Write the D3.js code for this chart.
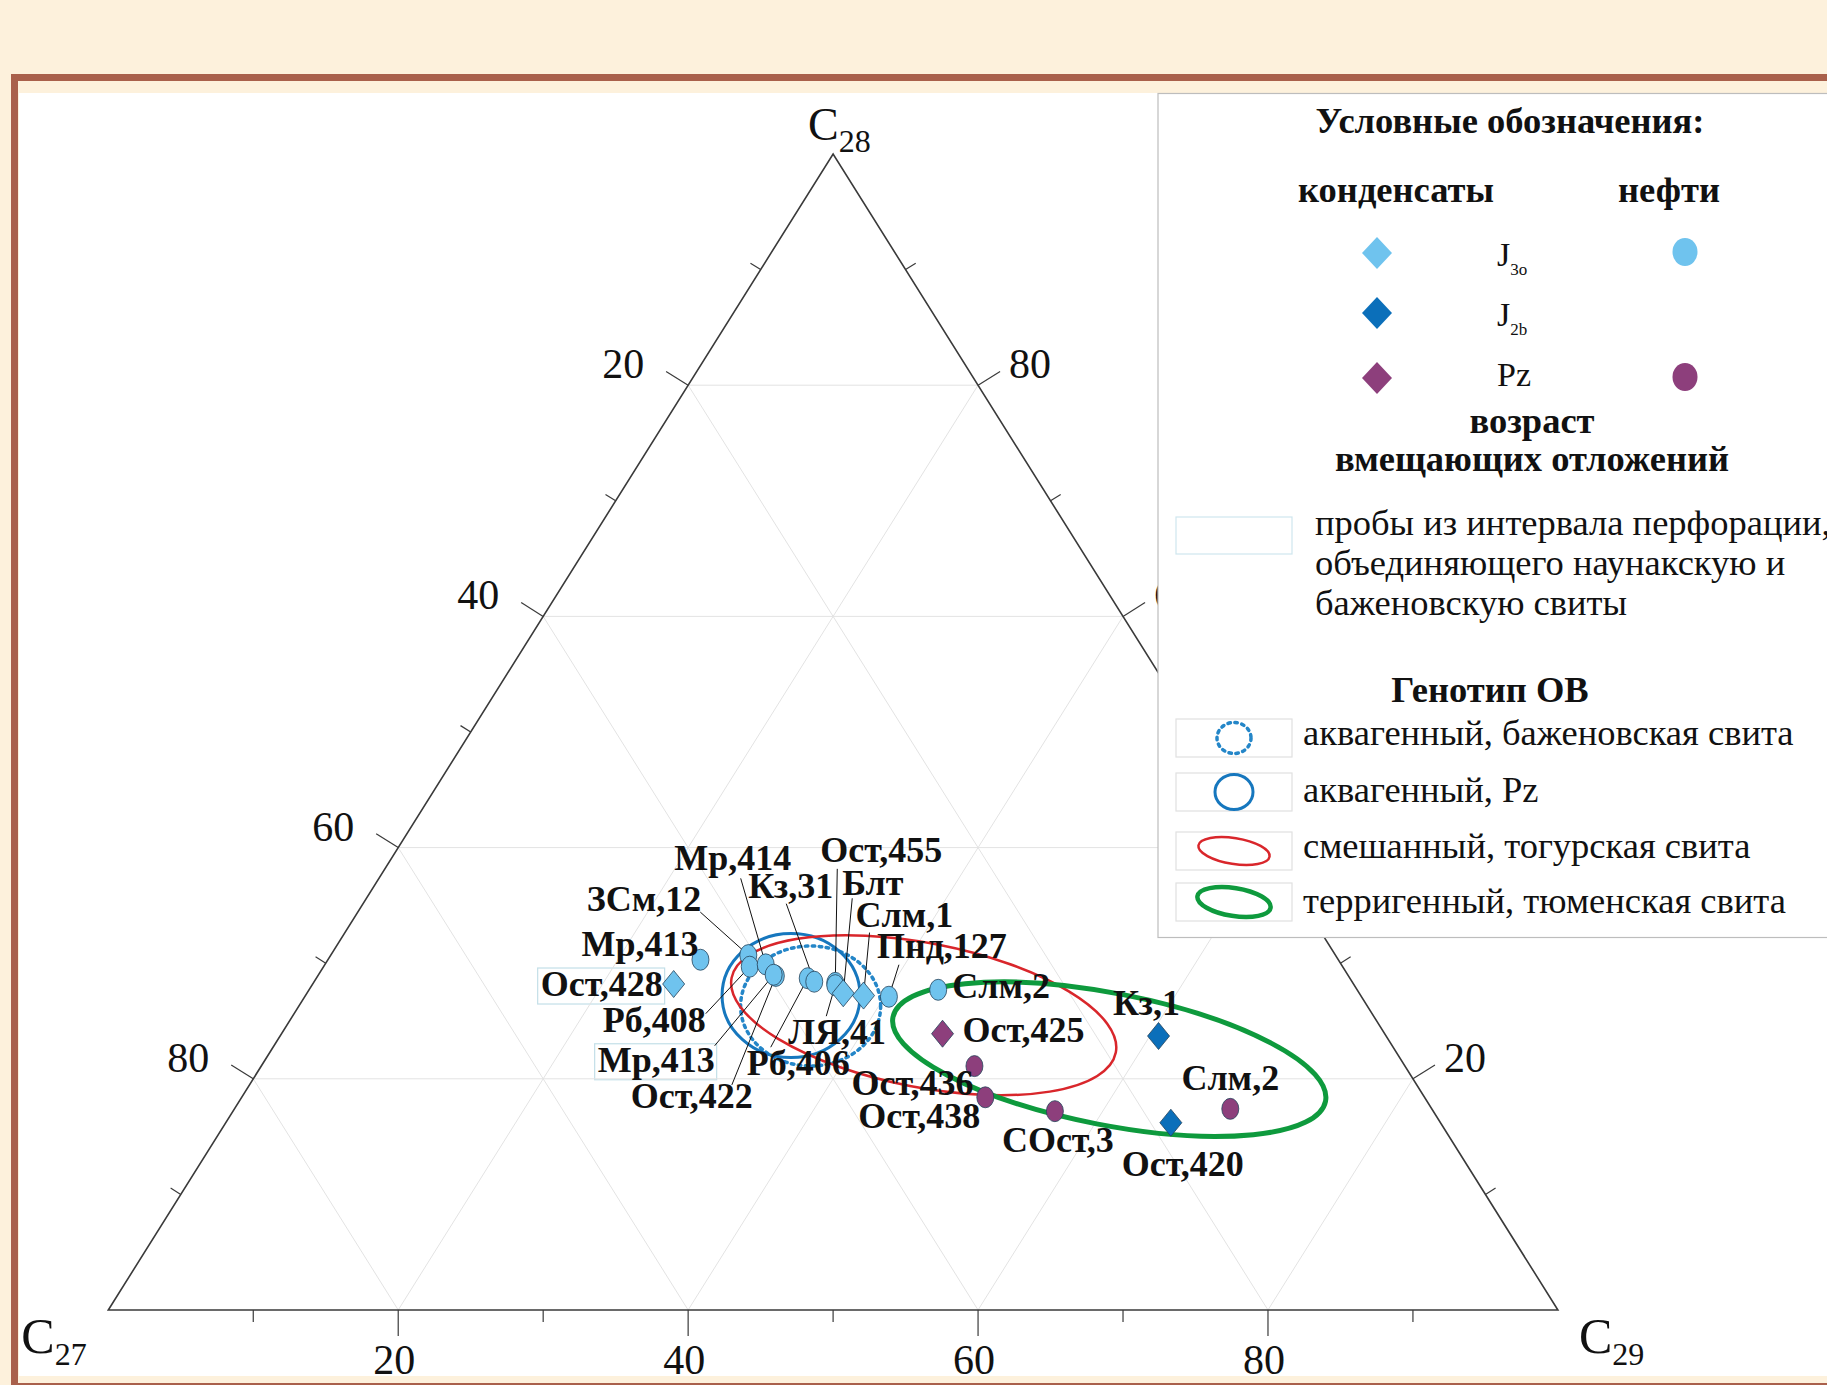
<!DOCTYPE html>
<html>
<head>
<meta charset="utf-8">
<script src="https://d3js.org/d3.v7.min.js"></script>
<style>
  html, body { margin: 0; padding: 0; background: #fdf1dc; }
  svg { display: block; }
  text { font-family: "Liberation Serif", "Times New Roman", serif; fill: #111; }
</style>
</head>
<body>
<div id="chart"></div>
<script>
// sample names, components in % (C27, C28, C29)
var sampleNames = ['Мр,413', 'Ост,428', 'ЗСм,12', 'Рб,408', 'Мр,414', 'Ост,422', 'Мр,413', 'Рб,406',
                   'Кз,31', 'Ост,455', 'ЛЯ,41', 'Блт', 'Слм,1', 'Пнд,127', 'Слм,2', 'Ост,425',
                   'Ост,436', 'Ост,438', 'СОст,3', 'Кз,1', 'Ост,420', 'Слм,2'];
var c27 = [44.0, 46.9, 40.5, 40.9, 39.7, 39.5, 39.6, 37.4, 37.1, 35.7, 35.8, 35.6, 34.3, 32.6, 28.9, 30.5, 29.7, 30.3, 26.1, 15.7, 18.6, 13.9];
var c28 = [30.3, 28.2, 30.7, 29.7, 29.9, 28.9, 29.0, 28.7, 28.4, 28.3, 28.1, 27.4, 27.2, 27.1, 27.7, 23.9, 21.1, 18.4, 17.2, 23.7, 16.2, 17.4];
var c29 = [25.7, 24.9, 28.8, 29.4, 30.4, 31.6, 31.4, 33.9, 34.5, 36.0, 36.1, 37.0, 38.5, 40.3, 43.4, 45.6, 49.2, 51.3, 56.7, 60.6, 65.2, 68.7];
// fluid type: oil (нефть) or condensate (конденсат)
var fluidType = ['oil', 'cond', 'oil', 'oil', 'oil', 'oil', 'oil', 'oil', 'oil', 'oil', 'oil', 'cond', 'cond', 'oil',
                 'oil', 'cond', 'oil', 'oil', 'oil', 'cond', 'cond', 'oil'];
// age of host deposits
var hostAge = ['J3o', 'J3o', 'J3o', 'J3o', 'J3o', 'J3o', 'J3o', 'J3o', 'J3o', 'J3o', 'J3o', 'J3o', 'J3o', 'J3o',
               'J3o', 'Pz', 'Pz', 'Pz', 'Pz', 'J2b', 'J2b', 'Pz'];
// samples from perforation interval spanning both formations
var perforation = [false, true, false, false, false, false, true, false, false, false, false, false, false, false,
                   false, false, false, false, false, false, false, false];

// genotype fields: centre (C27, C28, C29), half axes in % of C29 axis
var fieldNames = ['аквагенный, баженовская свита', 'аквагенный, Pz', 'смешанный, тогурская свита', 'терригенный, тюменская свита'];
var fieldC27 = [38.4, 39.3, 31.0, 20.1];
var fieldC28 = [26.3, 27.2, 25.5, 21.7];
var fieldC29 = [35.3, 33.5, 43.5, 58.2];
var fieldRx = [4.83, 4.76, 13.5, 15.2];
var fieldRy = [4.14, 4.28, 4.97, 4.55];

var axisTicks = [20, 40, 60, 80];

// label placement: [anchor, dx, dy, leader start dx, dy]
var labelLayout = [
  ['end', -2, -4], ['end', -11, 12], ['end', -47, -44, -48, -43], ['end', -44, 65, -44, 47],
  ['middle', -33, -94, -25, -86], ['end', -23, 132, -44, 109], ['end', -59, 97, -59, 71],
  ['start', -61, 97, -37, 69], ['end', 19, -84, -28, -78], ['start', -15, -121, 2, -114],
  ['start', -47, 59, -9, 31], ['start', -1, -98, 9, -95], ['start', -8, -69, 6, -63],
  ['start', -12, -39, 10, -32], ['start', 14, 8], ['start', 20, 8], ['end', -1, 29], ['end', -5, 31],
  ['middle', 3, 41], ['middle', -12, -21], ['middle', 12, 53], ['middle', 0, -19]
];

var ageColor = { 'J3o': '#6fc3ee', 'J2b': '#0b6fba', 'Pz': '#8d3f7c' };
var fieldStyle = [
  { stroke: '#2486c8', width: 3.5, dash: '2.5,4.5' },
  { stroke: '#1677be', width: 3, dash: null },
  { stroke: '#d9262b', width: 2.5, dash: null },
  { stroke: '#0e9a3d', width: 5, dash: null }
];
var fieldAngle = [0, 0, 11, 11];

var width = 1827, height = 1385;

var svg = d3.select('#chart').append('svg')
  .attr('width', width)
  .attr('height', height);

// page frame
svg.append('rect').attr('width', width).attr('height', height).attr('fill', '#fdf1dc');
svg.append('rect').attr('x', 11).attr('y', 74).attr('width', width).attr('height', height).attr('fill', '#a9604b');
svg.append('rect').attr('x', 18).attr('y', 81).attr('width', width).attr('height', 1302).attr('fill', '#fdf1dc');
svg.append('rect').attr('x', 19).attr('y', 93).attr('width', width).attr('height', 1283).attr('fill', '#ffffff');

// ternary scales: base carries C29, height carries C28
var x = d3.scaleLinear().domain([0, 100]).range([108.3, 1557.9]);
var y = d3.scaleLinear().domain([0, 100]).range([1310, 154]);

function pt(a, b, c) {
  var s = a + b + c;
  b = b * 100 / s; c = c * 100 / s;
  return [x(c + b / 2), y(b)];
}

var g = svg.append('g');

// grid
var grid = g.append('g').attr('stroke', '#e3e3e3').attr('stroke-width', 1).attr('fill', 'none');
axisTicks.forEach(function(v) {
  var segs = [
    [pt(100 - v, v, 0), pt(0, v, 100 - v)],
    [pt(100 - v, 0, v), pt(0, 100 - v, v)],
    [pt(v, 100 - v, 0), pt(v, 0, 100 - v)]
  ];
  segs.forEach(function(s) {
    grid.append('line')
      .attr('x1', s[0][0]).attr('y1', s[0][1])
      .attr('x2', s[1][0]).attr('y2', s[1][1]);
  });
});

// triangle
var A = pt(100, 0, 0), B = pt(0, 100, 0), C = pt(0, 0, 100);
g.append('path')
  .attr('d', 'M' + A + 'L' + B + 'L' + C + 'Z')
  .attr('fill', 'none')
  .attr('stroke', '#3a3a3a')
  .attr('stroke-width', 1.6);

// axes: edge point as function of value, outward normal
function normalOf(p, q, inside) {
  var dx = q[0] - p[0], dy = q[1] - p[1], l = Math.sqrt(dx * dx + dy * dy);
  var n = [-dy / l, dx / l];
  var mx = (p[0] + q[0]) / 2, my = (p[1] + q[1]) / 2;
  if ((inside[0] - mx) * n[0] + (inside[1] - my) * n[1] > 0) n = [-n[0], -n[1]];
  return n;
}
var centre = pt(33.3, 33.3, 33.3);
var axes = [
  { at: function(v) { return pt(100 - v, 0, v); }, n: normalOf(A, C, centre), anchor: 'middle', lx: -4, ly: 64 },
  { at: function(v) { return pt(v, 100 - v, 0); }, n: normalOf(A, B, centre), anchor: 'end', lx: -44, ly: -7 },
  { at: function(v) { return pt(0, v, 100 - v); }, n: normalOf(B, C, centre), anchor: 'start', lx: 31, ly: -7 }
];

var tickG = g.append('g').attr('stroke', '#3a3a3a').attr('stroke-width', 1.2);
axes.forEach(function(ax) {
  d3.range(10, 100, 10).forEach(function(v) {
    var p = ax.at(v), major = v % 20 === 0, len = major ? 26 : 12;
    tickG.append('line')
      .attr('x1', p[0]).attr('y1', p[1])
      .attr('x2', p[0] + ax.n[0] * len).attr('y2', p[1] + ax.n[1] * len);
    if (major) {
      g.append('text')
        .attr('x', p[0] + ax.lx)
        .attr('y', p[1] + ax.ly)
        .attr('text-anchor', ax.anchor)
        .attr('font-size', 42)
        .text(v);
    }
  });
});

// vertex labels
function vertexLabel(xp, yp, sub, size) {
  var t = g.append('text').attr('x', xp).attr('y', yp).attr('font-size', size);
  t.append('tspan').text('C');
  t.append('tspan').attr('font-size', 32).attr('dy', 12).text(sub);
}
vertexLabel(B[0] - 25, B[1] - 14, '28', 46);
vertexLabel(A[0] - 87, A[1] + 43, '27', 50);
vertexLabel(C[0] + 21, C[1] + 43, '29', 50);

// genotype fields
fieldNames.forEach(function(name, i) {
  var p = pt(fieldC27[i], fieldC28[i], fieldC29[i]);
  var st = fieldStyle[i];
  g.append('ellipse')
    .attr('transform', 'translate(' + p + ') rotate(' + fieldAngle[i] + ')')
    .attr('rx', x(fieldRx[i]) - x(0))
    .attr('ry', x(fieldRy[i]) - x(0))
    .attr('fill', 'none')
    .attr('stroke', st.stroke)
    .attr('stroke-width', st.width)
    .attr('stroke-dasharray', st.dash)
    .attr('stroke-linecap', st.dash ? 'round' : null);
});

// samples
var samples = sampleNames.map(function(name, i) {
  var p = pt(c27[i], c28[i], c29[i]);
  return { name: name, x: p[0], y: p[1], type: fluidType[i], age: hostAge[i], box: perforation[i], lay: labelLayout[i] };
});

// leader lines
g.append('g').selectAll('line')
  .data(samples.filter(function(d) { return d.lay.length > 3; }))
  .enter().append('line')
  .attr('x1', function(d) { return d.x + d.lay[3]; })
  .attr('y1', function(d) { return d.y + d.lay[4]; })
  .attr('x2', function(d) { return d.x; })
  .attr('y2', function(d) { return d.y; })
  .attr('stroke', '#111')
  .attr('stroke-width', 1);

function diamond(w, h) {
  return 'M0,' + (-h) + 'L' + w + ',0L0,' + h + 'L' + (-w) + ',0Z';
}

var marks = g.append('g').selectAll('g')
  .data(samples)
  .enter().append('g')
  .attr('transform', function(d) { return 'translate(' + d.x + ',' + d.y + ')'; });

marks.filter(function(d) { return d.type === 'oil'; })
  .append('ellipse')
  .attr('rx', 8.5).attr('ry', 10.5)
  .attr('fill', function(d) { return ageColor[d.age]; })
  .attr('stroke', '#24435a').attr('stroke-width', 0.8);

marks.filter(function(d) { return d.type === 'cond'; })
  .append('path')
  .attr('d', diamond(11, 13.5))
  .attr('fill', function(d) { return ageColor[d.age]; })
  .attr('stroke', '#24435a').attr('stroke-width', 0.8);

// labels
var labels = g.append('g').selectAll('text')
  .data(samples)
  .enter().append('text')
  .attr('x', function(d) { return d.x + d.lay[1]; })
  .attr('y', function(d) { return d.y + d.lay[2]; })
  .attr('text-anchor', function(d) { return d.lay[0]; })
  .attr('font-size', 36)
  .attr('font-weight', 'bold')
  .text(function(d) { return d.name; });

labels.filter(function(d) { return d.box; }).each(function() {
  var bb = this.getBBox();
  g.insert('rect', 'g')
    .attr('x', bb.x - 3).attr('y', bb.y + 4)
    .attr('width', bb.width + 5).attr('height', bb.height - 4)
    .attr('fill', 'none')
    .attr('stroke', '#c3dfe8')
    .attr('stroke-width', 1.2);
});

// legend
var lg = svg.append('g');
lg.append('rect')
  .attr('x', 1158).attr('y', 93.5)
  .attr('width', 700).attr('height', 844)
  .attr('fill', '#ffffff')
  .attr('stroke', '#bdbdbd')
  .attr('stroke-width', 1.2);

function ltext(xp, yp, str, opts) {
  opts = opts || {};
  return lg.append('text')
    .attr('x', xp).attr('y', yp)
    .attr('font-size', opts.size || 36.5)
    .attr('font-weight', opts.bold ? 'bold' : null)
    .attr('text-anchor', opts.anchor || 'start')
    .text(str);
}

ltext(1510, 133, 'Условные обозначения:', { bold: true, anchor: 'middle' });
ltext(1396, 202, 'конденсаты', { bold: true, anchor: 'middle' });
ltext(1669, 202, 'нефти', { bold: true, anchor: 'middle' });

var legendAges = ['J3o', 'J2b', 'Pz'];
var legendAgeY = [253, 313, 378];
var legendAgeText = [['J', '3o'], ['J', '2b'], ['Pz', '']];
var legendOil = [true, false, true];
legendAges.forEach(function(age, i) {
  lg.append('path')
    .attr('transform', 'translate(1377,' + legendAgeY[i] + ')')
    .attr('d', diamond(15, 16))
    .attr('fill', ageColor[age]);
  if (legendOil[i]) {
    lg.append('ellipse')
      .attr('cx', 1685).attr('cy', legendAgeY[i] - 1)
      .attr('rx', 12.5).attr('ry', 14)
      .attr('fill', ageColor[age]);
  }
  var t = lg.append('text').attr('x', 1497).attr('y', legendAgeY[i] + (i === 2 ? 8 : 13)).attr('font-size', 34);
  t.append('tspan').text(legendAgeText[i][0]);
  if (legendAgeText[i][1]) t.append('tspan').attr('font-size', 17).attr('dy', 9).text(legendAgeText[i][1]);
});

ltext(1532, 433, 'возраст', { bold: true, anchor: 'middle' });
ltext(1532, 471, 'вмещающих отложений', { bold: true, anchor: 'middle' });

lg.append('rect')
  .attr('x', 1176).attr('y', 517)
  .attr('width', 116).attr('height', 37)
  .attr('fill', 'none')
  .attr('stroke', '#cfe6ee')
  .attr('stroke-width', 1.2);
ltext(1315, 535, 'пробы из интервала перфорации,');
ltext(1315, 575, 'объединяющего наунакскую и');
ltext(1315, 615, 'баженовскую свиты');

ltext(1490, 702, 'Генотип ОВ', { bold: true, anchor: 'middle' });

var rowY = [719, 773, 832, 883];
var rowTextY = [745, 802, 858, 913];
var rowIconR = [[17, 15.5], [19, 17.5], [36, 13], [37, 14]];
fieldNames.forEach(function(name, i) {
  lg.append('rect')
    .attr('x', 1176).attr('y', rowY[i])
    .attr('width', 116).attr('height', 38)
    .attr('fill', 'none')
    .attr('stroke', '#e0e0e0')
    .attr('stroke-width', 1.2);
  var st = fieldStyle[i];
  lg.append('ellipse')
    .attr('transform', 'translate(1234,' + (rowY[i] + 19) + ') rotate(' + (fieldAngle[i] ? 9 : 0) + ')')
    .attr('rx', rowIconR[i][0]).attr('ry', rowIconR[i][1])
    .attr('fill', 'none')
    .attr('stroke', st.stroke)
    .attr('stroke-width', st.width * (i === 3 ? 0.9 : 1))
    .attr('stroke-dasharray', st.dash)
    .attr('stroke-linecap', st.dash ? 'round' : null);
  ltext(1303, rowTextY[i], name);
});
</script>
</body>
</html>
